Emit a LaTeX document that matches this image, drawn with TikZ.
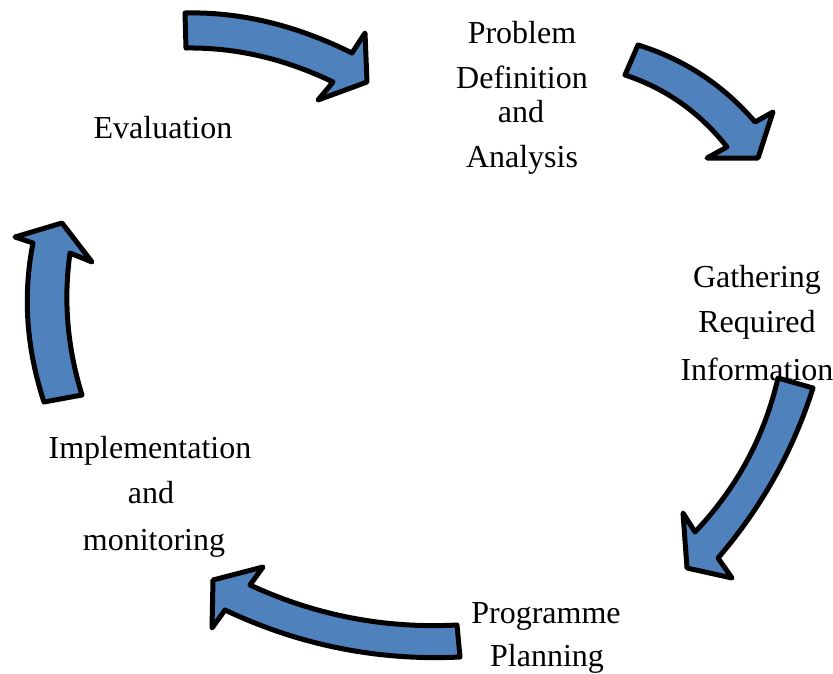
\documentclass[tikz,border=0pt]{standalone}
\usepackage{fontspec}
\setmainfont{Liberation Serif}
\usetikzlibrary{calc}
\definecolor{arrowblue}{HTML}{4F81BD}
\begin{document}
\begin{tikzpicture}[x=1pt,y=-1pt,
  blockarrow/.style={fill=arrowblue,draw=black,line width=5pt,line join=round},
  lbl/.style={anchor=base,inner sep=0pt,font=\fontsize{32}{36}\selectfont}]
\useasboundingbox (0,0) rectangle (833,673);
% arrows (quadratic edges written as cubic controls)
\draw[blockarrow] (186,48) -- (185,13)
  .. controls ($(185,13)!0.6667!(267.5,11)$) and ($(352,53)!0.6667!(267.5,11)$) .. (352,53)
  -- (365,33) -- (367,82) -- (318,100) -- (333,82)
  .. controls ($(333,82)!0.6667!(260.5,47)$) and ($(186,48)!0.6667!(260.5,47)$) .. (186,48) -- cycle;
\draw[blockarrow] (625,75) -- (638,45)
  .. controls ($(638,45)!0.6667!(707.5,66.5)$) and ($(755,122)!0.6667!(707.5,66.5)$) .. (755,122)
  -- (773,112) -- (758,158) -- (707,158) -- (727,147)
  .. controls ($(727,147)!0.6667!(686,95)$) and ($(625,75)!0.6667!(686,95)$) .. (625,75) -- cycle;
\draw[blockarrow] (778,378) -- (813,388)
  .. controls ($(813,388)!0.6667!(782.9,482.8)$) and ($(718,558)!0.6667!(782.9,482.8)$) .. (718,558)
  -- (732,578) -- (687,568) -- (683,513) -- (695,532)
  .. controls ($(695,532)!0.6667!(757.5,466.4)$) and ($(778,378)!0.6667!(757.5,466.4)$) .. (778,378) -- cycle;
\draw[blockarrow] (460,657) -- (457,625)
  .. controls ($(457,625)!0.6667!(348.5,630.6)$) and ($(250,585)!0.6667!(348.5,630.6)$) .. (250,585)
  -- (263,567) -- (213,580) -- (212,628) -- (225,610)
  .. controls ($(225,610)!0.6667!(336.7,662.9)$) and ($(460,657)!0.6667!(336.7,662.9)$) .. (460,657) -- cycle;
\draw[blockarrow] (82,395) -- (44,402)
  .. controls ($(44,402)!0.6667!(17.5,321.5)$) and ($(33,243)!0.6667!(17.5,321.5)$) .. (33,243)
  -- (15,237) -- (62,223) -- (92,262) -- (70,253)
  .. controls ($(70,253)!0.6667!(60,324)$) and ($(82,395)!0.6667!(60,324)$) .. (82,395) -- cycle;
% labels
\node[lbl] (pa) at (522,43) {Problem};
\node[lbl] (pb) at (522,88) {Definition};
\node[lbl] (pc) at (521,122) {and};
\node[lbl] (pd) at (522,167) {Analysis};
\node[lbl] (ga) at (757,287) {Gathering};
\node[lbl] (gb) at (757,332) {Required};
\node[lbl] (gc) at (757,380) {Information};
\node[lbl] (ra) at (546,623) {Programme};
\node[lbl] (rb) at (547,666) {Planning};
\node[lbl] (ia) at (150,458) {Implementation};
\node[lbl] (ib) at (151,503) {and};
\node[lbl] (ic) at (154,550) {monitoring};
\node[lbl] (ev) at (163,138) {Evaluation};
\end{tikzpicture}
\end{document}
